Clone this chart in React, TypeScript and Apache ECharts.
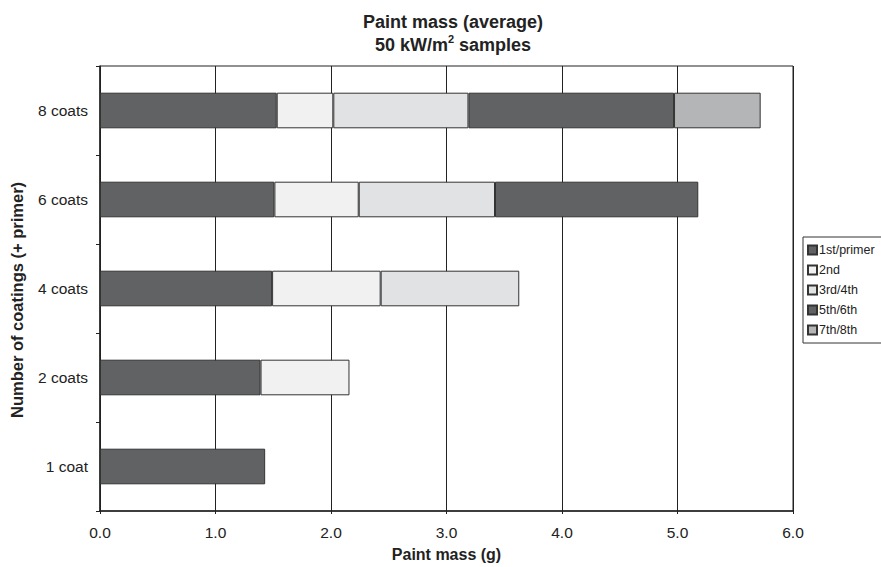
import React, { useEffect, useRef } from "react";
import * as echarts from "echarts";

// Coating groups, bottom to top on the category axis
const categories = ["1 coat", "2 coats", "4 coats", "6 coats", "8 coats"];

// Average paint mass (g) added by each layer group
const primer = [1.43, 1.39, 1.49, 1.51, 1.53];
const second = [null, 0.77, 0.94, 0.73, 0.49];
const thirdFourth = [null, null, 1.2, 1.18, 1.17];
const fifthSixth = [null, null, null, 1.76, 1.78];
const seventhEighth = [null, null, null, null, 0.75];

const seriesNames = ["1st/primer", "2nd", "3rd/4th", "5th/6th", "7th/8th"];
const seriesColors = ["#616264", "#f1f1f1", "#e1e2e3", "#616264", "#b4b5b6"];
const seriesData = [primer, second, thirdFourth, fifthSixth, seventhEighth];

const xTicks = [0, 1, 2, 3, 4, 5, 6];

const FONT = "'Liberation Sans', Arial, Helvetica, sans-serif";
const INK = "#222";

export default function App() {
  const ref = useRef<HTMLDivElement>(null);

  useEffect(() => {
    if (!ref.current) return;
    const chart = echarts.init(ref.current, null, { renderer: "svg" });

    chart.setOption({
      animation: false,
      backgroundColor: "#ffffff",
      textStyle: { fontFamily: FONT },
      title: {
        text: "Paint mass (average)\n50 kW/m{sup|2} samples",
        left: 448,
        top: 5,
        textAlign: "center",
        textStyle: {
          fontFamily: FONT,
          fontSize: 18,
          fontWeight: "bold",
          color: INK,
          lineHeight: 23,
          rich: {
            sup: {
              fontFamily: FONT,
              fontSize: 11,
              fontWeight: "bold",
              color: INK,
              verticalAlign: "top",
              lineHeight: 12,
              padding: [0, 0, 8, 0],
            },
          },
        },
      },
      // Vertical axis title, drawn on its own so it can sit a little below the plot's centre
      graphic: [
        {
          type: "text",
          x: 17,
          y: 300,
          rotation: Math.PI / 2,
          style: {
            text: "Number of coatings (+ primer)",
            font: `bold 16.5px ${FONT}`,
            fill: INK,
            align: "center",
            verticalAlign: "middle",
          },
        },
      ],
      legend: {
        orient: "vertical",
        left: 803,
        top: 237,
        data: seriesNames,
        itemWidth: 9,
        itemHeight: 9,
        itemGap: 6,
        icon: "rect",
        padding: [6, 30, 6, 4],
        borderColor: "#333",
        borderWidth: 1,
        borderRadius: 0,
        selectedMode: false,
        textStyle: {
          fontFamily: FONT,
          fontSize: 12.5,
          color: INK,
          lineHeight: 14,
          padding: [0, 0, 0, -3],
        },
      },
      grid: {
        left: 100,
        right: 88,
        top: 66,
        bottom: 55,
        show: true,
        borderColor: INK,
        borderWidth: 1,
        containLabel: false,
      },
      xAxis: {
        type: "value",
        min: 0,
        max: 6,
        interval: 1,
        name: "Paint mass (g)",
        nameLocation: "middle",
        nameGap: 35,
        nameTextStyle: { fontFamily: FONT, fontSize: 16, fontWeight: "bold", color: INK },
        axisLine: { show: true, lineStyle: { color: INK, width: 1.5 } },
        axisTick: { show: true, length: 3, lineStyle: { color: INK } },
        axisLabel: {
          fontFamily: FONT,
          fontSize: 15.5,
          color: INK,
          margin: 13,
          formatter: (v: number) => (xTicks.includes(v) ? v.toFixed(1) : ""),
        },
        splitLine: { show: true, lineStyle: { color: INK, width: 1 } },
      },
      yAxis: {
        type: "category",
        data: categories,
        axisLine: { show: true, lineStyle: { color: INK, width: 1.5 } },
        axisTick: { show: true, length: 4, alignWithLabel: false, lineStyle: { color: INK } },
        axisLabel: { fontFamily: FONT, fontSize: 15.5, color: INK, margin: 12 },
        splitLine: { show: false },
      },
      series: seriesNames.map((name, i) => ({
        name,
        type: "bar",
        stack: "mass",
        barWidth: "40%",
        data: seriesData[i],
        itemStyle: {
          color: seriesColors[i],
          borderColor: "#333",
          borderWidth: 1,
        },
      })),
    });

    return () => chart.dispose();
  }, []);

  return <div ref={ref} style={{ width: 881, height: 567, position: "absolute", left: 0, top: 0 }} />;
}
